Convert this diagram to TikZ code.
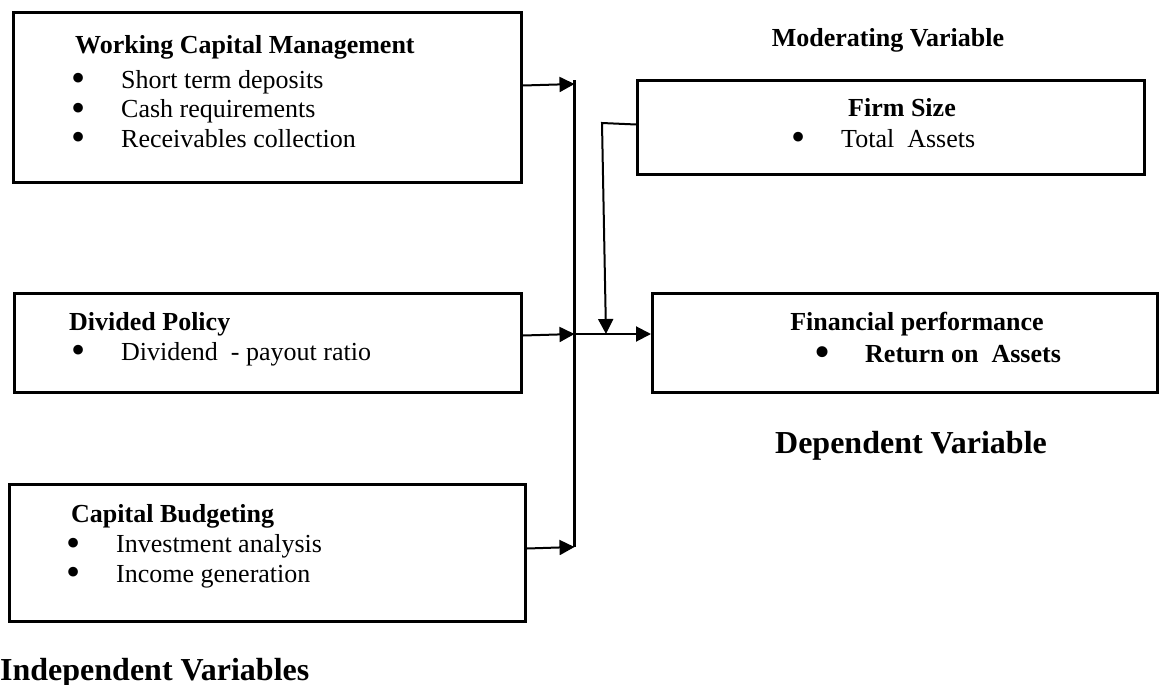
\documentclass[tikz,border=0pt]{standalone}
\usepackage{fontspec}
\setmainfont{Liberation Serif}
\usetikzlibrary{arrows.meta}

\newcommand{\blt}{\makebox[0pt]{\smash{\raisebox{-3.5pt}{\scalebox{1.55}{\textbullet}}}}\hspace{43pt}}

\tikzset{
  box/.style={draw, line width=3pt, inner sep=0pt, anchor=north west},
  txt/.style={inner sep=0pt, anchor=base west, font=\fontsize{26}{29.5}\selectfont},
  list/.style={txt, align=left},
  ttl/.style={txt, font=\fontsize{26}{30}\selectfont\bfseries},
  big/.style={inner sep=0pt, font=\fontsize{32}{38}\selectfont\bfseries},
  arr/.style={line width=2pt, -{Triangle[length=15pt,width=15pt]}}
}

\begin{document}
\begin{tikzpicture}[x=1pt,y=-1pt]
\useasboundingbox (0,0) rectangle (1159,685);

% Boxes
\node[box, minimum width=508pt, minimum height=170pt] (wcm) at (12,11) {};
\node[box, minimum width=507pt, minimum height=99pt] (div) at (13,292) {};
\node[box, minimum width=516pt, minimum height=137pt] (capb) at (8,483) {};
\node[box, minimum width=507pt, minimum height=94pt] (fsize) at (636,79) {};
\node[box, minimum width=505pt, minimum height=99pt] (fperf) at (651,292) {};

% Working capital (base = last line)
\node[ttl] (wcmT) at (75,53) {Working Capital Management};
\node[list] (wcmL) at (78,147) {\blt Short term deposits\\
  \blt Cash requirements\\
  \blt Receivables collection};

% Dividend
\node[ttl] (divT) at (69,330) {Divided Policy};
\node[txt] (div1) at (78,360) {\blt Dividend~~- payout ratio};

% Capital budgeting
\node[ttl] (capbT) at (71,522) {Capital Budgeting};
\node[list] (capbL) at (73,582) {\blt Investment analysis\\
  \blt Income generation};

% Firm size
\node[ttl, anchor=base] (fsizeT) at (902,116) {Firm Size};
\node[txt] (fsize1) at (798,147) {\blt Total~~Assets};

% Financial performance
\node[ttl, anchor=base] (fperfT) at (917,330) {Financial performance};
\node[txt, font=\fontsize{26}{30}\selectfont\bfseries] (fperf1) at (822,362) {\blt Return on~~Assets};

% Labels
\node[ttl, anchor=base] (modL) at (888,47) {Moderating Variable};
\node[big, anchor=base] (depL) at (911,453) {Dependent Variable};
\node[big, anchor=base west] (indL) at (0,680) {Independent Variables};

% Lines
\coordinate (bustop) at (574.5,80);
\coordinate (busbot) at (574.5,547);
\coordinate (j1) at (574.5,84);
\coordinate (j2) at (574.5,334);
\coordinate (j3) at (574.5,547);
\coordinate (fsbend) at (602,123);
\coordinate (fsend) at (606,334);

\draw[line width=3pt] (bustop) -- (busbot);
\draw[arr] ([yshift=12pt]wcm.east) -- (j1);
\draw[arr] ([yshift=7.5pt]div.east) -- (j2);
\draw[arr] ([yshift=4.5pt]capb.east) -- (j3);
\draw[arr] (j2) -- (j2 -| fperf.west);
\draw[arr] ([yshift=3pt]fsize.west) -- (fsbend) -- (fsend);

\end{tikzpicture}
\end{document}
